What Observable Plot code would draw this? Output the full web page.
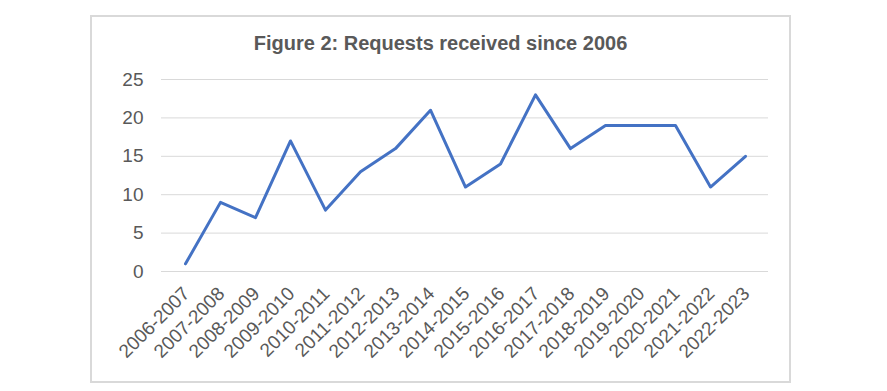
<!DOCTYPE html>
<html>
<head>
<meta charset="utf-8">
<script src="https://cdn.jsdelivr.net/npm/d3@7"></script>
<script src="https://cdn.jsdelivr.net/npm/@observablehq/plot@0.6"></script>
<style>
  html, body { margin: 0; padding: 0; background: #fff; }
  #wrap { position: relative; width: 887px; height: 391px; font-family: "Liberation Sans", Arial, sans-serif; }
  #frame { position: absolute; left: 90px; top: 15px; width: 697px; height: 364px; border: 2px solid #d9d9d9; box-sizing: content-box; }
  #title { position: absolute; left: 90px; width: 701px; top: 31px; text-align: center; font-size: 20px; font-weight: bold; color: #595959; line-height: 24px; }
  #chart { position: absolute; left: 0; top: 0; }
</style>
</head>
<body>
<div id="wrap">
  <div id="frame"></div>
  <div id="title">Figure 2: Requests received since 2006</div>
  <div id="chart"></div>
</div>
<script>
const periods = ["2006-2007","2007-2008","2008-2009","2009-2010","2010-2011","2011-2012","2012-2013","2013-2014","2014-2015","2015-2016","2016-2017","2017-2018","2018-2019","2019-2020","2020-2021","2021-2022","2022-2023"];
const requests = [1, 9, 7, 17, 8, 13, 16, 21, 11, 14, 23, 16, 19, 19, 19, 11, 15];
const yTicks = [0, 5, 10, 15, 20, 25];

const data = periods.map((p, i) => ({period: p, value: requests[i]}));

const chart = Plot.plot({
  width: 887,
  height: 391,
  marginLeft: 161,
  marginRight: 119,
  marginTop: 79,
  marginBottom: 120,
  style: {fontFamily: "'Liberation Sans', Arial, sans-serif", background: "transparent", overflow: "visible"},
  x: {type: "point", domain: periods, padding: 0.5},
  y: {domain: [0, 25]},
  marks: [
    Plot.gridY(yTicks, {stroke: "#d9d9d9", strokeOpacity: 1, strokeWidth: 1}),
    Plot.axisY(yTicks, {tickSize: 0, tickPadding: 18, fontSize: 19, fill: "#595959", label: null}),
    Plot.axisX({tickSize: 0, tickRotate: -45, tickPadding: 19, dx: 1, fontSize: 19, fill: "#595959", label: null}),
    Plot.line(data, {x: "period", y: "value", stroke: "#4472C4", strokeWidth: 3, strokeLinejoin: "round", strokeLinecap: "round"})
  ]
});
document.getElementById("chart").appendChild(chart);
</script>
</body>
</html>
